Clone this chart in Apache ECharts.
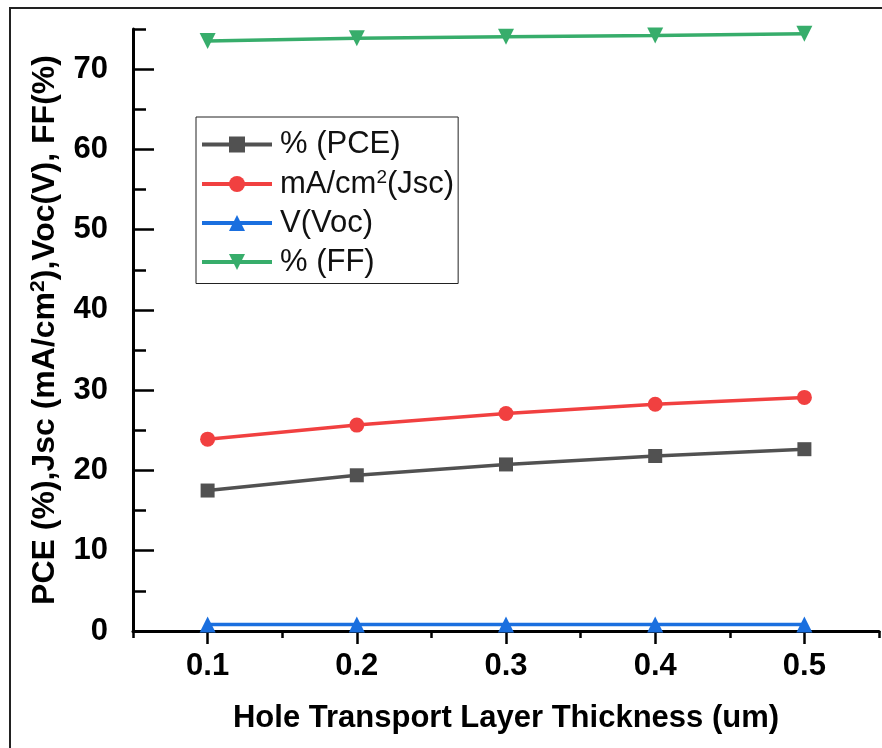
<!DOCTYPE html>
<html>
<head>
<meta charset="utf-8">
<script src="https://cdn.jsdelivr.net/npm/echarts@6/dist/echarts.min.js"></script>
<style>
  html, body { margin: 0; padding: 0; background: #fff; }
  #chart { width: 882px; height: 748px; }
</style>
</head>
<body>
<div id="chart"></div>
<script>
const thickness = [0.1, 0.2, 0.3, 0.4, 0.5]
const pce = [17.5, 19.4, 20.75, 21.8, 22.65]
const jsc = [23.9, 25.65, 27.1, 28.25, 29.1]
const voc = [0.8, 0.8, 0.8, 0.8, 0.8]
const ff = [73.5, 73.85, 74.05, 74.2, 74.4]

const xMajor = [0.1, 0.2, 0.3, 0.4, 0.5]
const xMinor = [0.05, 0.15, 0.25, 0.35, 0.45, 0.55]
const yMajor = [0, 10, 20, 30, 40, 50, 60, 70]
const yMinor = [5, 15, 25, 35, 45, 55, 65, 75]

const font = '"Liberation Sans", Arial, sans-serif'
const colors = ['#515151', '#F14040', '#1A6FDF', '#37AD6B']

function pairs(ys) {
  return thickness.map((x, i) => [x, ys[i]])
}

function lineSeries(name, ys, color, symbol, size) {
  return {
    name,
    type: 'line',
    data: pairs(ys),
    symbol,
    symbolSize: size,
    lineStyle: { color, width: 3.5 },
    itemStyle: { color },
    emphasis: { disabled: true },
  }
}

const chart = echarts.init(document.getElementById('chart'))
chart.setOption({
  animation: false,
  textStyle: { fontFamily: font },
  graphic: [{
    type: 'rect',
    shape: { x: 10, y: 8, width: 900, height: 800 },
    style: { fill: 'none', stroke: '#222', lineWidth: 2 },
    silent: true,
  }],
  grid: { left: 133, right: 3, top: 29, bottom: 117 },
  legend: {
    orient: 'vertical',
    left: 196,
    top: 117,
    padding: [12, 4, 6, 4],
    itemGap: 8,
    itemWidth: 70,
    itemHeight: 20,
    borderColor: '#222',
    borderWidth: 1,
    backgroundColor: '#fff',
    lineStyle: { width: 4 },
    formatter: (n) => n.replace('cm2', 'cm{sup|2}'),
    textStyle: {
      fontFamily: font,
      fontSize: 31,
      color: '#111',
      padding: [0, 0, 0, 3],
      rich: {
        sup: { fontSize: 19, fontFamily: font, color: '#111', verticalAlign: 'top', padding: [0, 0, 13, 0] },
      },
    },
  },
  xAxis: [{
    type: 'value',
    min: 0.05,
    max: 0.55,
    name: 'Hole Transport Layer Thickness (um)',
    nameLocation: 'middle',
    nameGap: 72,
    nameTextStyle: { fontFamily: font, fontSize: 31, fontWeight: 'bold', color: '#000' },
    axisLine: { onZero: false, lineStyle: { color: '#000', width: 3 } },
    axisTick: { customValues: xMajor, length: 13, lineStyle: { color: '#000', width: 2.5 } },
    axisLabel: {
      customValues: xMajor,
      margin: 20,
      fontFamily: font, fontSize: 31, fontWeight: 'bold', color: '#000',
      formatter: (v) => v.toFixed(1),
    },
    splitLine: { show: false },
  }, {
    type: 'value',
    min: 0.05,
    max: 0.55,
    position: 'bottom',
    axisLine: { show: false },
    axisTick: { customValues: xMinor, length: 7, lineStyle: { color: '#000', width: 2.5 } },
    axisLabel: { show: false },
    splitLine: { show: false },
  }],
  yAxis: [{
    type: 'value',
    min: 0,
    max: 75,
    name: 'PCE (%),Jsc (mA/cm{sup|2}),Voc(V), FF(%)',
    nameLocation: 'middle',
    nameGap: 70,
    nameTextStyle: {
      fontFamily: font, fontSize: 32, fontWeight: 'bold', color: '#000',
      rich: {
        sup: { fontFamily: font, fontSize: 21, fontWeight: 'bold', color: '#000', verticalAlign: 'top', padding: [0, 0, 14, 0] },
      },
    },
    axisLine: { onZero: false, lineStyle: { color: '#000', width: 3 } },
    axisTick: { inside: true, customValues: yMajor, length: 21, lineStyle: { color: '#000', width: 2.5 } },
    axisLabel: {
      customValues: yMajor,
      margin: 25,
      fontFamily: font, fontSize: 31, fontWeight: 'bold', color: '#000',
    },
    splitLine: { show: false },
  }, {
    type: 'value',
    min: 0,
    max: 75,
    position: 'left',
    axisLine: { show: false },
    axisTick: { inside: true, customValues: yMinor, length: 13, lineStyle: { color: '#000', width: 2.5 } },
    axisLabel: { show: false },
    splitLine: { show: false },
  }],
  series: [
    lineSeries('% (PCE)', pce, colors[0], 'rect', 14),
    lineSeries('mA/cm2(Jsc)', jsc, colors[1], 'circle', 15),
    lineSeries('V(Voc)', voc, colors[2], 'triangle', 16),
    lineSeries('% (FF)', ff, colors[3], 'path://M0,0 L10,0 L5,9 Z', 16),
  ],
})
</script>
</body>
</html>
